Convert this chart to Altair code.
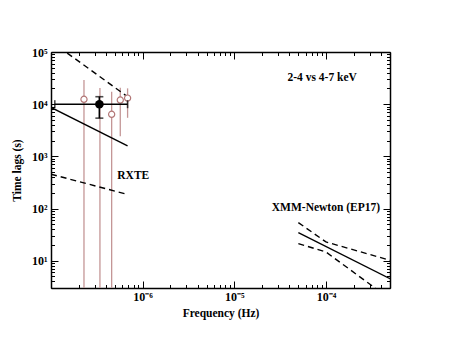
import altair as alt
import pandas as pd

# ---------------- data ----------------
# open (brown) RXTE points with vertical error bars
circ_freq = [2.29e-7, 3.42e-7, 4.59e-7, 5.7e-7, 6.85e-7]
circ_lag = [12400, 10000, 6400, 12000, 13100]
circ_hi = [29000, 20400, 17300, 20600, 20100]
circ_lo = [1, 1, 1, 2440, 5480]

# averaged black point
avg_freq = [3.37e-7]
avg_lag = [1.0e4]
avg_lo = [5400]
avg_hi = [13900]
avg_flo = [1.1e-7]
avg_fhi = [6.85e-7]

# RXTE model line and its bounds
rxte_freq = [1e-7, 6.85e-7]
rxte_fit = [8690, 1590]
rxte_upper_freq = [1e-7, 6.85e-7]
rxte_upper = [1.6e5, 1.39e4]
rxte_lower_freq = [1e-7, 6.7e-7]
rxte_lower = [455, 188]

# XMM-Newton model line and its bounds
xmm_freq = [5e-5, 5e-4]
xmm_fit = [34.6, 4.53]
xmm_band_freq = [5e-5, 1e-4, 5e-4]
xmm_upper = [53.8, 22.9, 10.2]
xmm_lower = [21.3, 14.7, 1.85]

# annotations
note_text = ["2-4 vs 4-7 keV", "RXTE", "XMM-Newton (EP17)"]
note_freq = [9.1e-5, 7.9e-7, 1.0e-4]
note_lag = [32000, 417, 103]

# axes
x_domain = [1e-7, 5e-4]
y_domain = [3, 1e5]
x_decades = [1e-7, 1e-6, 1e-5, 1e-4]
x_labels = ["", "10\u207b\u2076", "10\u207b\u2075", "10\u207b\u2074"]
y_decades = [1e1, 1e2, 1e3, 1e4, 1e5]
y_labels = ["10\u00b9", "10\u00b2", "10\u00b3", "10\u2074", "10\u2075"]

x_minor = [float(f"{m}e{e}") for e in range(-7, -3) for m in range(2, 10)
           if float(f"{m}e{e}") <= x_domain[1] * 1.0001]
y_minor = [float(f"{m}e{e}") for e in range(0, 6) for m in range(2, 10)
           if y_domain[0] <= float(f"{m}e{e}") <= y_domain[1] * 1.0001]

# ---------------- tables ----------------
circ = pd.DataFrame({"f": circ_freq, "lag": circ_lag, "hi": circ_hi, "lo": circ_lo})
avg = pd.DataFrame({"f": avg_freq, "lag": avg_lag, "lo": avg_lo, "hi": avg_hi,
                    "flo": avg_flo, "fhi": avg_fhi})
solid = pd.concat([
    pd.DataFrame({"f": rxte_freq, "lag": rxte_fit, "c": "rxte"}),
    pd.DataFrame({"f": xmm_freq, "lag": xmm_fit, "c": "xmm"}),
])
dashed = pd.concat([
    pd.DataFrame({"f": rxte_upper_freq, "lag": rxte_upper, "c": "ru"}),
    pd.DataFrame({"f": rxte_lower_freq, "lag": rxte_lower, "c": "rl"}),
    pd.DataFrame({"f": xmm_band_freq, "lag": xmm_upper, "c": "xu"}),
    pd.DataFrame({"f": xmm_band_freq, "lag": xmm_lower, "c": "xl"}),
])
notes = pd.DataFrame({"t": note_text, "f": note_freq, "lag": note_lag})

FONT = "Liberation Serif"
xs = alt.Scale(type="log", domain=x_domain, nice=False)
ys = alt.Scale(type="log", domain=y_domain, nice=False)


def lab_expr(vals, labs):
    arr = "[" + ",".join(repr(v) for v in vals) + "]"
    larr = "[" + ",".join("'" + s + "'" for s in labs) + "]"
    return f"indexof({arr}, datum.value) >= 0 ? {larr}[indexof({arr}, datum.value)] : ''"


common = dict(grid=False, domainColor="black", domainWidth=1.5, tickColor="black",
              tickWidth=1, labelOverlap=False, labelFlush=False,
              labelBound=False, labelFont=FONT, labelFontWeight="bold",
              labelFontSize=12, labelColor="black", titleFont=FONT,
              titleFontWeight="bold", titleFontSize=11.5, titleColor="black")
MAJ = alt.ExprRef(expr="-7")
MIN = alt.ExprRef(expr="-3.5")

x_bottom = alt.Axis(orient="bottom", values=x_decades, labelExpr=lab_expr(x_decades, x_labels),
                    tickSize=MAJ, labelPadding=10, title="Frequency (Hz)", titleY=28,
                    titleBaseline="alphabetic", **common)
y_left = alt.Axis(orient="left", values=y_decades, labelExpr=lab_expr(y_decades, y_labels),
                  tickSize=MAJ, labelPadding=11, title="Time lags (s)", titleX=-34, titleY=118,
                  titleAngle=-90, titleBaseline="middle", titleAlign="center", **common)
x_bottom_min = alt.Axis(orient="bottom", values=x_minor, labels=False, title=None,
                        tickSize=MIN, domain=False, **common)
y_left_min = alt.Axis(orient="left", values=y_minor, labels=False, title=None,
                      tickSize=MIN, domain=False, **common)
x_top = alt.Axis(orient="top", values=x_decades, labels=False, title=None,
                 tickSize=MAJ, **common)
y_right = alt.Axis(orient="right", values=y_decades, labels=False, title=None,
                   tickSize=MAJ, **common)
x_top_min = alt.Axis(orient="top", values=x_minor, labels=False, title=None,
                     tickSize=MIN, domain=False, **common)
y_right_min = alt.Axis(orient="right", values=y_minor, labels=False, title=None,
                       tickSize=MIN, domain=False, **common)

BROWN_L = "#c49696"
BROWN_C = "#b27676"


def X(field="f", axis=None):
    return alt.X(f"{field}:Q", scale=xs, axis=axis)


def Y(field="lag", axis=None):
    return alt.Y(f"{field}:Q", scale=ys, axis=axis)


circ_bars = alt.Chart(circ).mark_rule(color=BROWN_L, strokeWidth=1.3, clip=True).encode(
    x=X(axis=x_bottom), y=Y("lo", axis=y_left), y2="hi:Q")
circ_pts = alt.Chart(circ).mark_point(shape="circle", filled=True, fill="white",
                                      stroke=BROWN_C, strokeWidth=1.2, size=38,
                                      opacity=1).encode(
    x=X(axis=x_bottom_min), y=Y(axis=y_left_min))

solid_l = alt.Chart(solid).mark_line(color="black", strokeWidth=1.4, clip=True).encode(
    x=X(axis=x_top), y=Y(axis=y_right), detail="c:N")
dashed_l = alt.Chart(dashed).mark_line(color="black", strokeWidth=1.4, strokeDash=[6, 4],
                                        clip=True).encode(
    x=X(axis=x_top_min), y=Y(axis=y_right_min), detail="c:N")

avg_v = alt.Chart(avg).mark_rule(color="black", strokeWidth=1.6).encode(
    x=X(), y=Y("lo"), y2="hi:Q")
avg_h = alt.Chart(avg).mark_rule(color="black", strokeWidth=1.6).encode(
    x=X("flo"), x2="fhi:Q", y=Y())
cap_v_lo = alt.Chart(avg).mark_tick(color="black", orient="horizontal", size=8,
                                    thickness=1.6).encode(x=X(), y=Y("lo"))
cap_v_hi = alt.Chart(avg).mark_tick(color="black", orient="horizontal", size=8,
                                    thickness=1.6).encode(x=X(), y=Y("hi"))
cap_h_lo = alt.Chart(avg).mark_tick(color="black", orient="vertical", size=8,
                                    thickness=1.6).encode(x=X("flo"), y=Y())
cap_h_hi = alt.Chart(avg).mark_tick(color="black", orient="vertical", size=8,
                                    thickness=1.6).encode(x=X("fhi"), y=Y())
avg_pt = alt.Chart(avg).mark_point(shape="circle", filled=True, color="black", size=72,
                                   opacity=1).encode(x=X(), y=Y())

txt = alt.Chart(notes).mark_text(font=FONT, fontWeight="bold", fontSize=11.5,
                                 color="black", baseline="middle", align="center").encode(
    x=X(), y=Y(), text="t:N")

chart = alt.layer(
    circ_bars, solid_l, dashed_l, circ_pts, avg_h, avg_v,
    cap_v_lo, cap_v_hi, cap_h_lo, cap_h_hi, avg_pt, txt
).resolve_axis(x="independent", y="independent").properties(
    width=339, height=236,
    autosize=alt.AutoSizeParams(type="none"),
    padding={"left": 43, "top": 44, "right": 53, "bottom": 53},
    background="white",
).configure_view(stroke=None)

chart.save("out.html", embed_options={"renderer": "svg", "actions": False})
